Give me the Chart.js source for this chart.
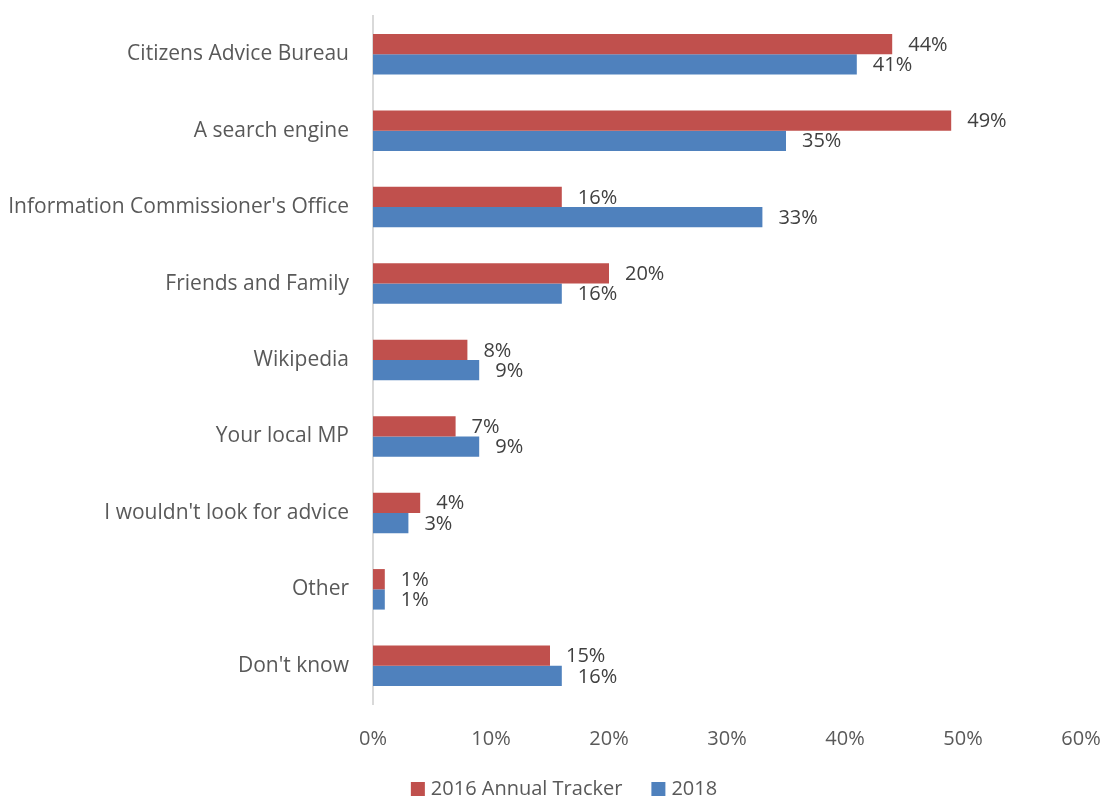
<!DOCTYPE html>
<html>
<head>
<meta charset="utf-8">
<script src="https://cdn.jsdelivr.net/npm/chart.js@4"></script>
<style>
  html, body { margin: 0; padding: 0; background: #fff; }
  #wrap { width: 1103px; height: 798px; position: relative; }
</style>
</head>
<body>
<div id="wrap"><canvas id="chart"></canvas></div>
<script>
// data
const categories = ['Citizens Advice Bureau', 'A search engine', "Information Commissioner's Office", 'Friends and Family', 'Wikipedia', 'Your local MP', "I wouldn't look for advice", 'Other', "Don't know"];
const tracker2016 = [44, 49, 16, 20, 8, 7, 4, 1, 15];
const values2018 = [41, 35, 33, 16, 9, 9, 3, 1, 16];
const seriesNames = ['2016 Annual Tracker', '2018'];
const xTicks = [0, 10, 20, 30, 40, 50, 60];

const FONT = "'Open Sans', sans-serif";

// draws the value labels at the end of each bar
const barLabels = {
  id: 'barLabels',
  afterDatasetsDraw(chart) {
    const ctx = chart.ctx;
    ctx.save();
    ctx.font = '20px ' + FONT;
    ctx.fillStyle = '#404040';
    ctx.textAlign = 'left';
    ctx.textBaseline = 'middle';
    chart.data.datasets.forEach(function (ds, i) {
      chart.getDatasetMeta(i).data.forEach(function (bar, j) {
        ctx.fillText(ds.data[j] + '%', bar.x + 16, bar.y + 1);
      });
    });
    ctx.restore();
  }
};

// legend at the bottom, centred under the chart
const bottomLegend = {
  id: 'bottomLegend',
  afterDraw(chart) {
    const ctx = chart.ctx;
    ctx.save();
    ctx.font = '20px ' + FONT;
    ctx.textBaseline = 'middle';
    ctx.textAlign = 'left';
    const box = 14, gap = 6, itemGap = 29, y = 789;
    const items = chart.data.datasets.map(ds => ({ text: ds.label, color: ds.backgroundColor, w: ctx.measureText(ds.label).width }));
    let total = 0;
    items.forEach((it, i) => { total += box + gap + it.w + (i > 0 ? itemGap : 0); });
    let x = 564 - total / 2;
    items.forEach(function (it) {
      ctx.fillStyle = it.color;
      ctx.fillRect(x, y - box / 2, box, box);
      ctx.fillStyle = '#595959';
      ctx.fillText(it.text, x + box + gap, y);
      x += box + gap + it.w + itemGap;
    });
    ctx.restore();
  }
};

const ctx = document.getElementById('chart').getContext('2d');
const myChart = new Chart(ctx, {
  type: 'bar',
  data: {
    labels: categories,
    datasets: [
      { label: seriesNames[0], data: tracker2016, backgroundColor: '#C0504D', barPercentage: 1, categoryPercentage: 0.53 },
      { label: seriesNames[1], data: values2018, backgroundColor: '#4F81BD', barPercentage: 1, categoryPercentage: 0.53 }
    ]
  },
  options: {
    indexAxis: 'y',
    responsive: true,
    maintainAspectRatio: false,
    animation: false,
    layout: { padding: { top: 16, right: 22, left: 0, bottom: 0 } },
    scales: {
      x: {
        min: 0,
        max: 60,
        afterBuildTicks: function (axis) { axis.ticks = xTicks.map(v => ({ value: v })); },
        afterFit: function (axis) { axis.height = 94; axis.paddingLeft = 0; axis.paddingRight = 0; },
        grid: { display: false },
        border: { display: false },
        ticks: { padding: 15, color: '#595959', font: { family: FONT, size: 20 }, callback: v => v + '%' }
      },
      y: {
        grid: { display: false },
        border: { color: '#d9d9d9', width: 2 },
        afterFit: function (axis) { axis.width = 373; axis.paddingTop = 0; axis.paddingBottom = 0; },
        ticks: { padding: 16, color: '#595959', font: { family: FONT, size: 21 } }
      }
    },
    plugins: {
      legend: { display: false },
      tooltip: { enabled: false }
    }
  },
  plugins: [barLabels, bottomLegend]
});
</script>
</body>
</html>
